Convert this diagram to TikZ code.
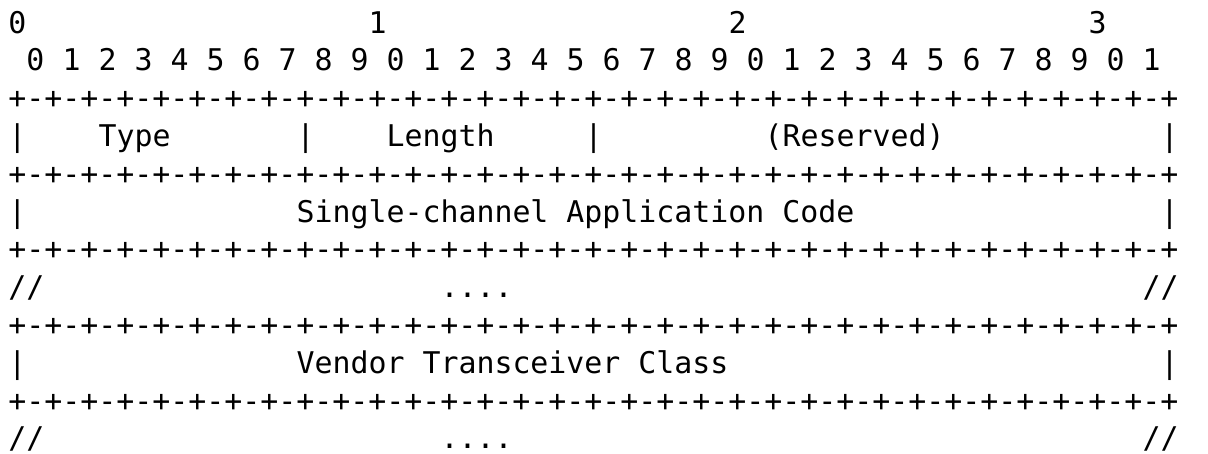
\documentclass[tikz,border=0pt]{standalone}
\usepackage{fontspec}
\setmonofont{DejaVu Sans Mono}
\begin{document}
\begin{tikzpicture}[x=1pt,y=1pt,
  txt/.style={anchor=base west,inner sep=0pt,outer sep=0pt,font=\ttfamily\fontsize{29.9}{36}\selectfont,text=black}]
\useasboundingbox (0,0) rectangle (1208,-453);
\def\cx#1{8.5+18*(#1)}
\def\ry#1{-33-37.8*(#1)}
\def\border{+-+-+-+-+-+-+-+-+-+-+-+-+-+-+-+-+-+-+-+-+-+-+-+-+-+-+-+-+-+-+-+-+}
% row 0: decades
\node[txt] (d0) at ({\cx{0}},{\ry{0}}) {0};
\node[txt] (d1) at ({\cx{20}},{\ry{0}}) {1};
\node[txt] (d2) at ({\cx{40}},{\ry{0}}) {2};
\node[txt] (d3) at ({\cx{60}},{\ry{0}}) {3};
% row 1: bit numbers
\foreach \i in {0,...,31}{
  \pgfmathtruncatemacro\dig{mod(\i,10)}
  \node[txt] (b\i) at ({\cx{1+2*\i}},{\ry{1}}) {\dig};
}
% borders
\node[txt] (r2) at ({\cx{0}},{\ry{2}}) {\border};
\node[txt] (r4) at ({\cx{0}},{\ry{4}}) {\border};
\node[txt] (r6) at ({\cx{0}},{\ry{6}}) {\border};
\node[txt] (r8) at ({\cx{0}},{\ry{8}}) {\border};
\node[txt] (r10) at ({\cx{0}},{\ry{10}}) {\border};
% row 3
\node[txt] (p3a) at ({\cx{0}},{\ry{3}}) {|};
\node[txt] (type) at ({\cx{5}},{\ry{3}}) {Type};
\node[txt] (p3b) at ({\cx{16}},{\ry{3}}) {|};
\node[txt] (len) at ({\cx{21}},{\ry{3}}) {Length};
\node[txt] (p3c) at ({\cx{32}},{\ry{3}}) {|};
\node[txt] (res) at ({\cx{42}},{\ry{3}}) {(Reserved)};
\node[txt] (p3d) at ({\cx{64}},{\ry{3}}) {|};
% row 5
\node[txt] (p5a) at ({\cx{0}},{\ry{5}}) {|};
\node[txt] (sca) at ({\cx{16}},{\ry{5}}) {Single-channel Application Code};
\node[txt] (p5b) at ({\cx{64}},{\ry{5}}) {|};
% row 7
\node[txt] (s7a) at ({\cx{0}},{\ry{7}}) {//};
\node[txt] (dots7) at ({\cx{24}},{\ry{7}}) {....};
\node[txt] (s7b) at ({\cx{63}},{\ry{7}}) {//};
% row 9
\node[txt] (p9a) at ({\cx{0}},{\ry{9}}) {|};
\node[txt] (vtc) at ({\cx{16}},{\ry{9}}) {Vendor Transceiver Class};
\node[txt] (p9b) at ({\cx{64}},{\ry{9}}) {|};
% row 11
\node[txt] (s11a) at ({\cx{0}},{\ry{11}}) {//};
\node[txt] (dots11) at ({\cx{24}},{\ry{11}}) {....};
\node[txt] (s11b) at ({\cx{63}},{\ry{11}}) {//};
\end{tikzpicture}
\end{document}
